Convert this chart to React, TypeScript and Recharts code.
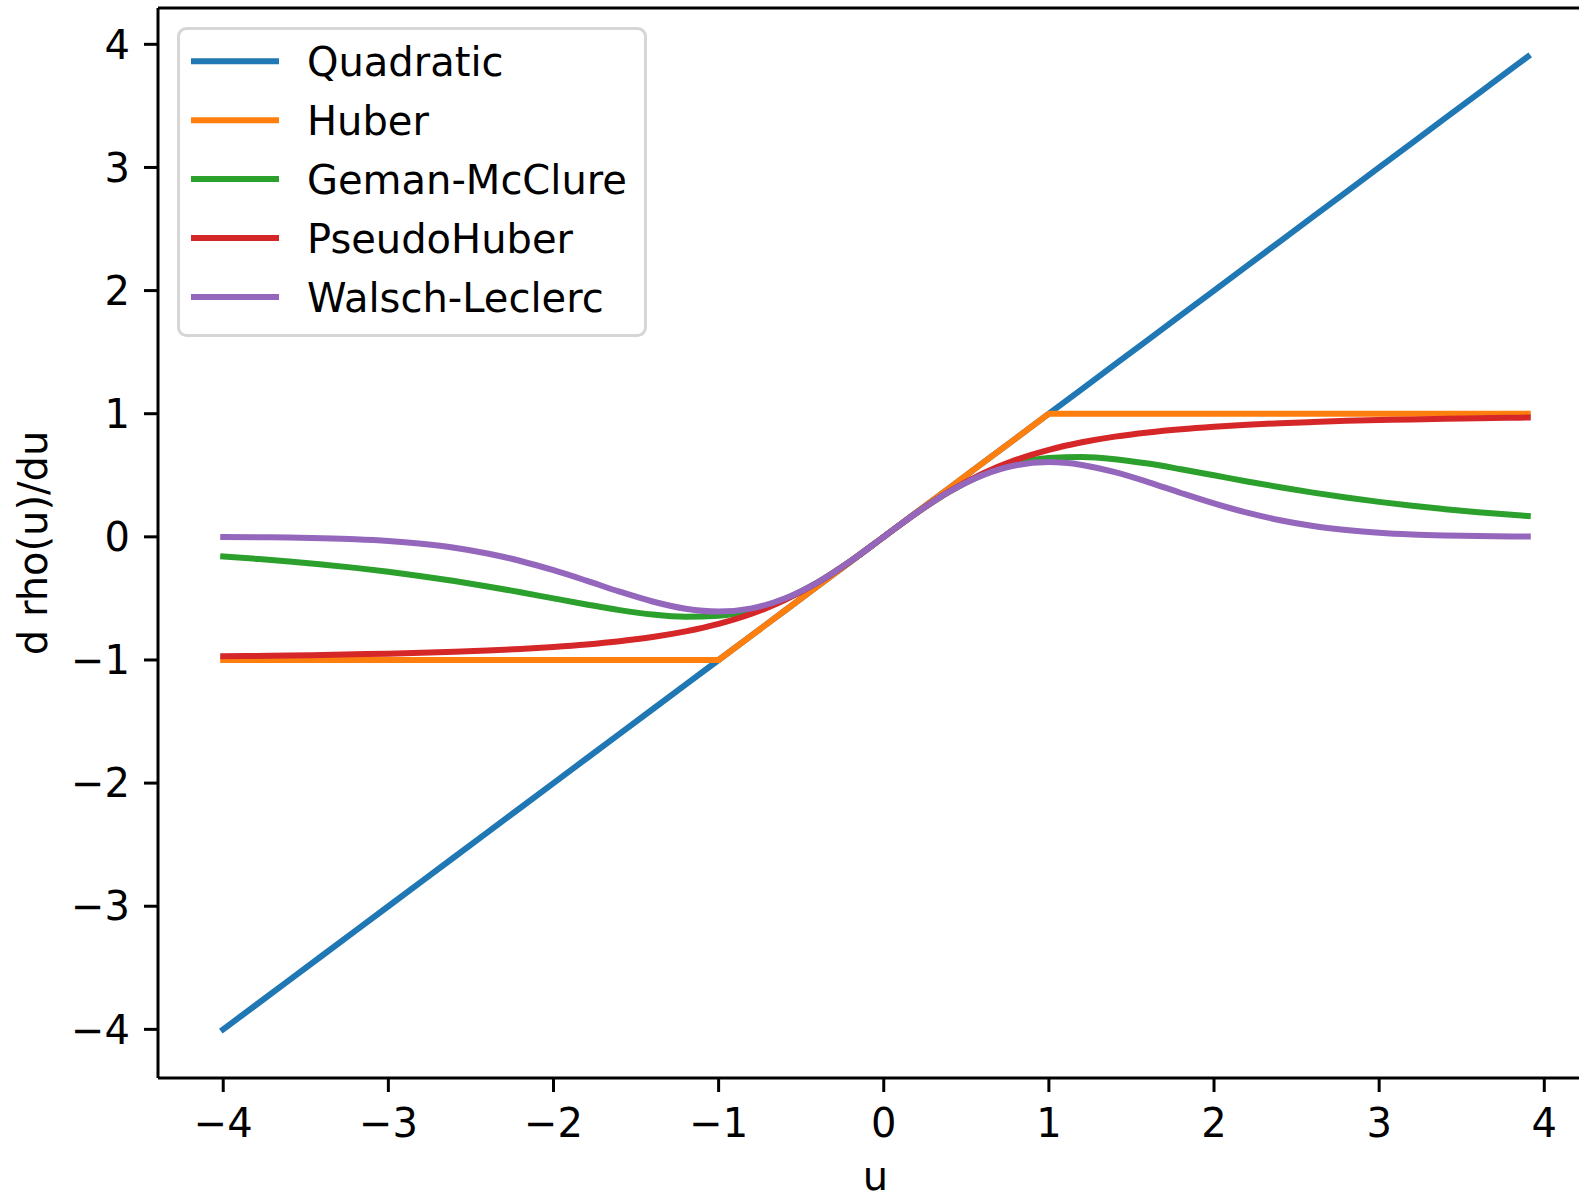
import { LineChart, Line, XAxis, YAxis, Legend } from 'recharts';

// sample positions along u
const U = [
  -4.0, -3.8, -3.6, -3.4, -3.2, -3.0, -2.8, -2.6, -2.4, -2.2, -2.0, -1.8, -1.6, -1.4, -1.2, -1.0, -0.8, -0.6, -0.4, -0.2,
  0,
  0.2, 0.4, 0.6, 0.8, 1.0, 1.2, 1.4, 1.6, 1.8, 2.0, 2.2, 2.4, 2.6, 2.8, 3.0, 3.2, 3.4, 3.6, 3.8, 3.9,
];

const QUADRATIC = [
  -4.0, -3.8, -3.6, -3.4, -3.2, -3.0, -2.8, -2.6, -2.4, -2.2, -2.0, -1.8, -1.6, -1.4, -1.2, -1.0, -0.8, -0.6, -0.4, -0.2,
  0,
  0.2, 0.4, 0.6, 0.8, 1.0, 1.2, 1.4, 1.6, 1.8, 2.0, 2.2, 2.4, 2.6, 2.8, 3.0, 3.2, 3.4, 3.6, 3.8, 3.9,
];

const HUBER = [
  -1, -1, -1, -1, -1, -1, -1, -1, -1, -1, -1, -1, -1, -1, -1, -1, -0.8, -0.6, -0.4, -0.2,
  0,
  0.2, 0.4, 0.6, 0.8, 1, 1, 1, 1, 1, 1, 1, 1, 1, 1, 1, 1, 1, 1, 1, 1,
];

const GEMAN_MCCLURE = [
  -0.16, -0.179, -0.2, -0.225, -0.252, -0.284, -0.32, -0.359, -0.403, -0.45, -0.5, -0.549, -0.595, -0.631, -0.649, -0.64, -0.595, -0.505, -0.37, -0.196,
  0,
  0.196, 0.37, 0.505, 0.595, 0.64, 0.649, 0.631, 0.595, 0.549, 0.5, 0.45, 0.403, 0.359, 0.32, 0.284, 0.252, 0.225, 0.2, 0.179, 0.169,
];

const PSEUDO_HUBER = [
  -0.97, -0.967, -0.964, -0.959, -0.954, -0.949, -0.942, -0.933, -0.923, -0.91, -0.894, -0.874, -0.848, -0.814, -0.768, -0.707, -0.625, -0.514, -0.371, -0.196,
  0,
  0.196, 0.371, 0.514, 0.625, 0.707, 0.768, 0.814, 0.848, 0.874, 0.894, 0.91, 0.923, 0.933, 0.942, 0.949, 0.954, 0.959, 0.964, 0.967, 0.969,
];

const WALSCH_LECLERC = [
  -0.001, -0.003, -0.006, -0.011, -0.019, -0.033, -0.056, -0.088, -0.135, -0.196, -0.271, -0.356, -0.445, -0.525, -0.584, -0.607, -0.581, -0.501, -0.369, -0.196,
  0,
  0.196, 0.369, 0.501, 0.581, 0.607, 0.584, 0.525, 0.445, 0.356, 0.271, 0.196, 0.135, 0.088, 0.056, 0.033, 0.019, 0.011, 0.006, 0.003, 0.002,
];

const TICKS = [-4, -3, -2, -1, 0, 1, 2, 3, 4];

const SERIES = [
  { key: 'quadratic', name: 'Quadratic', color: '#1f77b4', smooth: false },
  { key: 'huber', name: 'Huber', color: '#ff7f0e', smooth: false },
  { key: 'geman', name: 'Geman-McClure', color: '#2ca02c', smooth: true },
  { key: 'pseudo', name: 'PseudoHuber', color: '#d62728', smooth: true },
  { key: 'walsch', name: 'Walsch-Leclerc', color: '#9467bd', smooth: true },
];

const data = U.map((u, i) => ({
  u,
  quadratic: QUADRATIC[i],
  huber: HUBER[i],
  geman: GEMAN_MCCLURE[i],
  pseudo: PSEUDO_HUBER[i],
  walsch: WALSCH_LECLERC[i],
}));

const FONT = 'DejaVu Sans';
const FONT_SIZE = 40;
const DOMAIN: [number, number] = [-4.395, 4.295];

const fmt = (v: number) => (v < 0 ? `\u2212${-v}` : `${v}`);

function LegendBox() {
  return (
    <svg width={472} height={312} style={{ display: 'block' }}>
      <rect x={2.5} y={2.5} width={467} height={307} rx={8} ry={8}
        fill="#ffffff" fillOpacity={0.8} stroke="#d6d6d6" strokeWidth={3} />
      {SERIES.map((s, i) => {
        const cy = 35.3 + i * 58.9;
        return (
          <g key={s.key}>
            <line x1={15} x2={103} y1={cy} y2={cy} stroke={s.color} strokeWidth={6} />
            <text x={131} y={cy + 15} fontFamily={FONT} fontSize={FONT_SIZE} fill="#000">{s.name}</text>
          </g>
        );
      })}
    </svg>
  );
}

export default function App() {
  return (
    <div style={{ position: 'absolute', left: 0, top: 0, width: 1579, height: 1195, overflow: 'hidden', background: '#fff' }}>
      <LineChart
        width={1600}
        height={1195}
        data={data}
        margin={{ top: 6, right: 7, bottom: 0, left: 0 }}
        style={{ fontFamily: FONT }}
      >
        <XAxis
          dataKey="u"
          type="number"
          domain={DOMAIN}
          ticks={TICKS}
          interval={0}
          tickFormatter={fmt}
          height={117}
          tickSize={14}
          tickMargin={17}
          tick={{ fill: '#000', fontSize: FONT_SIZE, fontFamily: FONT }}
          tickLine={{ stroke: '#000', strokeWidth: 3 }}
          axisLine={{ stroke: '#000', strokeWidth: 3 }}
          label={{
            content: (props: any) => {
              const vb = props.viewBox || {};
              return (
                <text x={vb.x + vb.width / 2} y={vb.y + 112} textAnchor="middle"
                  fontFamily={FONT} fontSize={FONT_SIZE} fill="#000">u</text>
              );
            },
          }}
        />
        <XAxis
          xAxisId="top"
          orientation="top"
          type="number"
          domain={DOMAIN}
          height={2}
          tick={false}
          tickLine={false}
          axisLine={{ stroke: '#000', strokeWidth: 3 }}
        />
        <YAxis
          type="number"
          domain={DOMAIN}
          ticks={TICKS}
          interval={0}
          tickFormatter={fmt}
          width={158}
          tickSize={14}
          tickMargin={14}
          tick={{ fill: '#000', fontSize: FONT_SIZE, fontFamily: FONT }}
          tickLine={{ stroke: '#000', strokeWidth: 3 }}
          axisLine={{ stroke: '#000', strokeWidth: 3 }}
          label={{
            content: (props: any) => {
              const vb = props.viewBox || {};
              const cy = vb.y + vb.height / 2;
              return (
                <text x={0} y={0} transform={`translate(47, ${cy}) rotate(-90)`} textAnchor="middle"
                  fontFamily={FONT} fontSize={FONT_SIZE} fill="#000">d rho(u)/du</text>
              );
            },
          }}
        />
        {SERIES.map((s) => (
          <Line
            key={s.key}
            dataKey={s.key}
            name={s.name}
            type={s.smooth ? 'monotone' : 'linear'}
            stroke={s.color}
            strokeWidth={6}
            strokeLinecap="square"
            strokeLinejoin="round"
            dot={false}
            activeDot={false}
            isAnimationActive={false}
          />
        ))}
        <Legend
          layout="vertical"
          align="center"
          verticalAlign="middle"
          content={() => <LegendBox />}
          wrapperStyle={{ left: 176, top: 26, width: 472, height: 312 }}
        />
      </LineChart>
    </div>
  );
}
